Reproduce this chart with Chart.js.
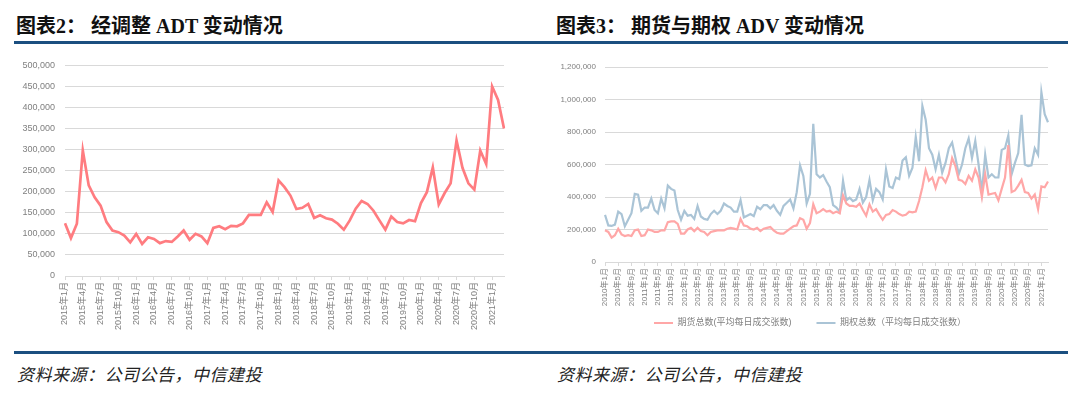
<!DOCTYPE html>
<html>
<head>
  <meta charset="utf-8">
  <title>ADT / ADV</title>
  <script src="https://cdn.jsdelivr.net/npm/chart.js"></script>
  <style>
    body { margin: 0; width: 1080px; height: 398px; background: #fff; position: relative; overflow: hidden; }
    .title { position: absolute; top: 10px; font: bold 20px "Liberation Serif", "Noto Sans CJK SC", serif; color: #111; white-space: pre; }
    .rule { position: absolute; left: 14px; width: 1054px; height: 3px; background: #1b4f80; }
    .source { position: absolute; top: 361px; font: italic 17px "Noto Sans CJK SC", sans-serif; letter-spacing: 0.5px; color: #222; }
    canvas { position: absolute; top: 50px; }
  </style>
</head>
<body>
  <div class="title" style="left:16px">图表2： 经调整 ADT 变动情况</div>
  <div class="title" style="left:556px">图表3： 期货与期权 ADV 变动情况</div>
  <div class="rule" style="top:41px"></div>
  <canvas id="adt" width="530" height="295" style="left:0px"></canvas>
  <canvas id="adv" width="540" height="295" style="left:540px"></canvas>
  <div class="rule" style="top:351px"></div>
  <div class="source" style="left:17px">资料来源：公司公告，中信建投</div>
  <div class="source" style="left:557px">资料来源：公司公告，中信建投</div>

  <script>

// left chart: monthly adjusted ADT, 2015-01 .. 2021-03
const adtValues = [
  125000, 90000, 124000, 298000, 215000, 187000, 167000, 128000, 108000, 104000,
  96000, 80000, 100000, 76000, 92000, 88000, 78000, 83000, 81000, 94000,
  108000, 86000, 100000, 94000, 78000, 114000, 118000, 111000, 119000, 118000,
  125000, 145000, 145000, 145000, 175000, 152000, 227000, 211000, 191000, 159000,
  162000, 171000, 138000, 144000, 137000, 134000, 124000, 110000, 132000, 160000,
  178000, 171000, 155000, 132000, 110000, 141000, 128000, 125000, 133000, 130000,
  173000, 199000, 258000, 170000, 197000, 220000, 322000, 257000, 220000, 205000,
  298000, 266000, 450000, 418000, 350000
];

// right chart: futures / options ADV, 2010-01 .. 2021-03
const futuresAdv = [
  195000, 185000, 150000, 165000, 205000, 170000, 160000, 165000, 160000, 195000,
  200000, 160000, 165000, 200000, 195000, 185000, 185000, 195000, 195000, 245000,
  250000, 250000, 235000, 175000, 175000, 200000, 210000, 190000, 210000, 190000,
  185000, 165000, 185000, 190000, 195000, 195000, 195000, 205000, 210000, 205000,
  200000, 265000, 225000, 220000, 205000, 200000, 210000, 190000, 205000, 210000,
  215000, 195000, 180000, 175000, 175000, 190000, 205000, 220000, 225000, 270000,
  260000, 205000, 240000, 355000, 300000, 310000, 325000, 310000, 315000, 300000,
  310000, 300000, 410000, 360000, 345000, 345000, 340000, 360000, 320000, 285000,
  355000, 310000, 325000, 290000, 260000, 290000, 295000, 320000, 310000, 295000,
  285000, 290000, 310000, 305000, 310000, 375000, 460000, 565000, 500000, 520000,
  455000, 520000, 520000, 490000, 540000, 640000, 590000, 505000, 500000, 480000,
  530000, 500000, 570000, 520000, 400000, 540000, 415000, 420000, 425000, 380000,
  450000, 520000, 720000, 430000, 440000, 470000, 505000, 430000, 425000, 390000,
  415000, 325000, 465000, 460000, 495000
];
const optionsAdv = [
  290000, 225000, 222000, 230000, 310000, 295000, 220000, 260000, 300000, 420000,
  415000, 315000, 335000, 335000, 390000, 320000, 300000, 390000, 330000, 470000,
  450000, 440000, 320000, 260000, 315000, 285000, 290000, 265000, 345000, 280000,
  265000, 260000, 295000, 315000, 295000, 315000, 360000, 345000, 335000, 310000,
  310000, 380000, 275000, 285000, 295000, 282000, 340000, 325000, 350000, 350000,
  330000, 350000, 315000, 290000, 345000, 365000, 385000, 330000, 430000, 595000,
  530000, 360000, 420000, 850000, 540000, 520000, 535000, 495000, 460000, 350000,
  335000, 310000, 500000, 380000, 395000, 375000, 385000, 450000, 365000, 400000,
  505000, 380000, 450000, 430000, 385000, 570000, 465000, 455000, 520000, 510000,
  625000, 645000, 530000, 580000, 770000, 620000, 960000, 875000, 700000, 660000,
  570000, 660000, 550000, 610000, 700000, 735000, 640000, 540000, 600000, 700000,
  760000, 640000, 745000, 600000, 430000, 660000, 520000, 540000, 520000, 520000,
  690000, 700000, 780000, 540000, 610000, 670000, 905000, 600000, 590000, 595000,
  700000, 660000, 1045000, 910000, 860000
];

const futuresName = '期货总数(平均每日成交张数)';
const optionsName = '期权总数（平均每日成交张数）';

function monthLabels(year, month, count) {
  const out = [];
  for (let i = 0; i < count; i++) {
    out.push(year + '年' + month + '月');
    month++;
    if (month > 12) { month = 1; year++; }
  }
  return out;
}
const adtMonths = monthLabels(2015, 1, adtValues.length);
const advMonths = monthLabels(2010, 1, futuresAdv.length);

Chart.defaults.font.family = '"Liberation Sans", "Noto Sans CJK SC", sans-serif';
Chart.defaults.color = '#7f7f7f';

const gridColor = '#d9d9d9';

function xAxis(every, size, height) {
  return {
    grid: { display: true, drawOnChartArea: false, drawTicks: true, tickLength: 4, color: gridColor },
    border: { display: true, color: gridColor },
    ticks: {
      autoSkip: false, minRotation: 90, maxRotation: 90, padding: 2,
      font: { size: size },
      callback: function (v, i) { return i % every === 0 ? this.getLabelForValue(v) : null; }
    },
    afterFit: s => { s.height = height; }
  };
}

// the x labels run into the legend band; widen the label clip box and nudge the legend right
const legendNudge = {
  id: 'legendNudge',
  afterLayout(chart) {
    chart.scales.x.bottom += 25;
    if (chart.legend) { chart.legend.left += 16; chart.legend.right += 16; }
  }
};

new Chart(document.getElementById('adt'), {
  type: 'line',
  data: {
    labels: adtMonths,
    datasets: [{ data: adtValues, borderColor: '#ff7c80', borderWidth: 2.7, pointRadius: 0, tension: 0 }]
  },
  options: {
    responsive: false, animation: false, devicePixelRatio: 1,
    layout: { padding: { top: 15, right: 26, bottom: 0, left: 0 } },
    plugins: { legend: { display: false }, tooltip: { enabled: false } },
    scales: {
      x: xAxis(3, 9, 69),
      y: {
        min: 0, max: 500000,
        ticks: { stepSize: 50000, padding: 10, font: { size: 9 }, callback: v => v.toLocaleString('en-US') },
        grid: { color: gridColor, drawTicks: false },
        border: { display: false },
        afterFit: s => { s.width = 65; }
      }
    }
  }
});

new Chart(document.getElementById('adv'), {
  type: 'line',
  data: {
    labels: advMonths,
    datasets: [
      { label: futuresName, data: futuresAdv, borderColor: '#ffa7a7', backgroundColor: '#ffa7a7', borderWidth: 2.2, pointRadius: 0, tension: 0 },
      { label: optionsName, data: optionsAdv, borderColor: '#aac4d6', backgroundColor: '#aac4d6', borderWidth: 2.2, pointRadius: 0, tension: 0 }
    ]
  },
  plugins: [legendNudge],
  options: {
    responsive: false, animation: false, devicePixelRatio: 1,
    layout: { padding: { top: 17, right: 32, bottom: 7.5, left: 0 } },
    plugins: {
      tooltip: { enabled: false },
      legend: {
        position: 'bottom',
        labels: { usePointStyle: true, pointStyle: 'line', pointStyleWidth: 19, padding: 25, font: { size: 9 } }
      }
    },
    scales: {
      x: xAxis(4, 8, 31.5),
      y: {
        min: 0, max: 1200000,
        ticks: { stepSize: 200000, padding: 9, font: { size: 8 }, callback: v => v.toLocaleString('en-US') },
        grid: { color: gridColor, drawTicks: false },
        border: { display: false },
        afterFit: s => { s.width = 65; }
      }
    }
  }
});
  </script>
</body>
</html>
